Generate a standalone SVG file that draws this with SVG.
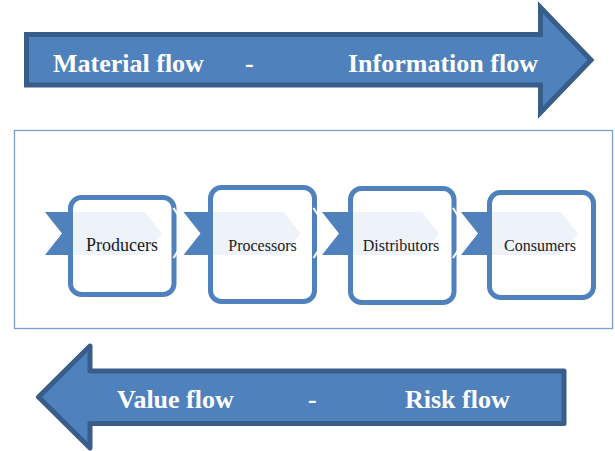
<svg xmlns="http://www.w3.org/2000/svg" width="615" height="451" viewBox="0 0 615 451">
  <style>
    .flow { fill: #4f81bd; stroke: #385d8a; stroke-width: 5; }
    .flow-label { font-family: "Liberation Serif", "Times New Roman", serif; font-weight: bold; font-size: 26px; fill: #ffffff; }
    .chevron { fill: #4f81bd; }
    .card { fill: #ffffff; fill-opacity: 0.9; stroke: #4f81bd; stroke-width: 5; }
    .card-label { font-family: "Liberation Serif", "Times New Roman", serif; font-size: 16px; fill: #1a1a1a; text-anchor: middle; }
    .nick { fill: none; stroke: #ffffff; stroke-width: 2; }
  </style>
  <defs>
    <polygon id="chev" points="0,212 100,212 117,233.5 100,255 0,255 17,233.5"/>
  </defs>

  <rect width="615" height="451" fill="#ffffff"/>

  <!-- forward flow arrow -->
  <g id="forward-arrow">
    <path class="flow" stroke-linejoin="miter" d="M26.5,34.5 H540.5 V7.5 L591,60 L540.5,112.5 V85 H26.5 Z"/>
    <text class="flow-label" x="53" y="72">Material flow</text>
    <text class="flow-label" x="245" y="72">-</text>
    <text class="flow-label" x="348" y="72">Information flow</text>
  </g>

  <!-- chain frame -->
  <rect id="frame" x="14.5" y="130.5" width="598" height="198" fill="#ffffff" stroke="#7b9fd2" stroke-width="1.3"/>

  <!-- chevron band running through the chain -->
  <g id="connectors">
    <use href="#chev" class="chevron" x="45"/>
    <use href="#chev" class="chevron" x="183.5"/>
    <use href="#chev" class="chevron" x="322"/>
    <use href="#chev" class="chevron" x="461"/>
  </g>

  <g id="producers">
    <rect class="card" x="70.5" y="197.5" width="103.5" height="97" rx="11"/>
    <path class="nick" d="M173.5,208 L178,215 M178,251 L173.5,258"/>
    <text class="card-label" x="122" y="251" style="font-size:18px">Producers</text>
  </g>

  <g id="processors">
    <rect class="card" x="210.5" y="187.5" width="104" height="114" rx="11"/>
    <path class="nick" d="M313.5,208 L318,215 M318,251 L313.5,258"/>
    <text class="card-label" x="262.5" y="251">Processors</text>
  </g>

  <g id="distributors">
    <rect class="card" x="350.5" y="188.5" width="103.5" height="114" rx="11"/>
    <path class="nick" d="M453,208 L457.5,215 M457.5,251 L453,258"/>
    <text class="card-label" x="401" y="251">Distributors</text>
  </g>

  <g id="consumers">
    <rect class="card" x="489.5" y="192.5" width="104" height="105" rx="11"/>
    <text class="card-label" x="540" y="251">Consumers</text>
  </g>

  <!-- backward flow arrow -->
  <g id="backward-arrow">
    <path class="flow" stroke-linejoin="round" d="M564,371 H90 V346 L38.5,397 L90,448 V423.5 H564 Z"/>
    <text class="flow-label" x="117" y="408">Value flow</text>
    <text class="flow-label" x="308" y="408">-</text>
    <text class="flow-label" x="405" y="408">Risk flow</text>
  </g>
</svg>
